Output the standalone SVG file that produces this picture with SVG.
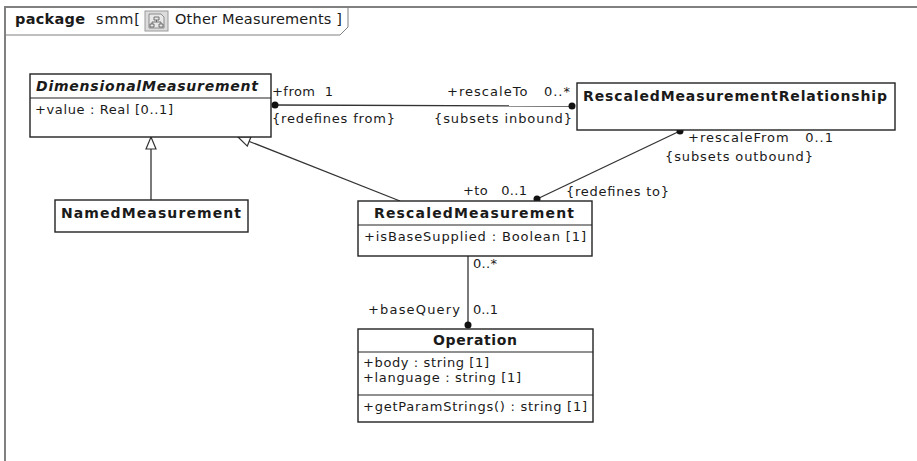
<svg xmlns="http://www.w3.org/2000/svg" width="917" height="461" viewBox="0 0 917 461">
<style>
text{font-family:"DejaVu Sans","Liberation Sans",sans-serif;fill:#1a1a1a;font-size:13px;white-space:pre}
.t{font-weight:bold;font-size:14px}
.it{font-style:italic}
.box{fill:#fff;stroke:#222;stroke-width:1.4}
.sep{stroke:#222;stroke-width:1.2}
.ln{stroke:#333;stroke-width:1.3;fill:none}
.dot{fill:#111}
.frame{stroke:#808080;fill:none}
</style>
<defs>
<marker id="gen" viewBox="0 0 14 12" refX="13" refY="6" markerWidth="14" markerHeight="12" markerUnits="userSpaceOnUse" orient="auto">
<path d="M1,1 L13,6 L1,11 Z" fill="#fff" stroke="#333" stroke-width="1.2"/>
</marker>
</defs>
<g id="frame">
<path class="frame" stroke-width="2" d="M5,461 V7 H917"/>
<path class="frame" stroke-width="1" d="M5,35 H340 L348,27 V7"/>
<text x="15" y="24" style="font-weight:bold;font-size:14.5px" textLength="70">package</text>
<text x="96" y="24" style="font-size:14.5px" textLength="44">smm[</text>
<g id="icon">
<rect x="145" y="11" width="23" height="20" fill="#dcdcdc" stroke="#9a9a9a"/>
<path d="M149,14 H161 L164,17 V28 H149 Z" fill="#e8e8e8" stroke="#777" stroke-width="0.8"/>
<path d="M154,17 h5 v3 h-5 z M150,24 h4 v3 h-4 z M159,24 h4 v3 h-4 z M156.5,20 v2 M152,22 h9 M152,22 v2 M161,22 v2" fill="none" stroke="#555" stroke-width="0.8"/>
</g>
<text x="175" y="24" style="font-size:14.5px" textLength="167">Other Measurements ]</text>
</g>
<g id="connectors">
<line class="ln" x1="151" y1="200" x2="151" y2="137" marker-end="url(#gen)"/>
<line class="ln" x1="400" y1="201" x2="238" y2="137" marker-end="url(#gen)"/>
<line class="ln" x1="274" y1="105" x2="573" y2="106"/>
<circle class="dot" cx="275" cy="105" r="3.5"/>
<circle class="dot" cx="572" cy="106" r="3.5"/>
<line class="ln" x1="680" y1="131" x2="537" y2="199"/>
<circle class="dot" cx="680" cy="131" r="3.5"/>
<circle class="dot" cx="537" cy="199" r="3.5"/>
<line class="ln" x1="468" y1="256" x2="468" y2="325"/>
<circle class="dot" cx="468" cy="325" r="3.5"/>
<text x="272" y="96" textLength="61">+from  1</text>
<text x="272" y="123" textLength="123">{redefines from}</text>
<text x="447" y="96" textLength="123">+rescaleTo   0..*</text>
<text x="434" y="123" textLength="138">{subsets inbound}</text>
<text x="688" y="142" textLength="145">+rescaleFrom   0..1</text>
<text x="665" y="161" textLength="148">{subsets outbound}</text>
<text x="566" y="196" textLength="103">{redefines to}</text>
<text x="463" y="195" textLength="64">+to   0..1</text>
<text x="473" y="268" textLength="24">0..*</text>
<text x="368" y="314" textLength="92">+baseQuery</text>
<text x="473" y="314" textLength="25">0..1</text>
</g>
<g id="DimensionalMeasurement">
<rect class="box" x="30" y="74" width="241" height="63"/>
<line class="sep" x1="30" y1="98" x2="271" y2="98"/>
<text class="t it" x="36" y="91" textLength="222">DimensionalMeasurement</text>
<text x="35" y="114" textLength="138">+value : Real [0..1]</text>
</g>
<g id="RescaledMeasurementRelationship">
<rect class="box" x="577" y="83" width="318" height="47"/>
<text class="t" x="583" y="101" textLength="304">RescaledMeasurementRelationship</text>
</g>
<g id="NamedMeasurement">
<rect class="box" x="55" y="200" width="193" height="32"/>
<text class="t" x="61" y="218" textLength="180">NamedMeasurement</text>
</g>
<g id="RescaledMeasurement">
<rect class="box" x="358" y="201" width="234" height="55"/>
<line class="sep" x1="358" y1="225" x2="592" y2="225"/>
<text class="t" x="374" y="218" textLength="200">RescaledMeasurement</text>
<text x="364" y="241" textLength="222">+isBaseSupplied : Boolean [1]</text>
</g>
<g id="Operation">
<rect class="box" x="358" y="329" width="235" height="93"/>
<line class="sep" x1="358" y1="352" x2="593" y2="352"/>
<line class="sep" x1="358" y1="395" x2="593" y2="395"/>
<text class="t" x="433" y="345" textLength="84">Operation</text>
<text x="363" y="367" textLength="126">+body : string [1]</text>
<text x="363" y="382" textLength="158">+language : string [1]</text>
<text x="363" y="411" textLength="224">+getParamStrings() : string [1]</text>
</g>
</svg>
